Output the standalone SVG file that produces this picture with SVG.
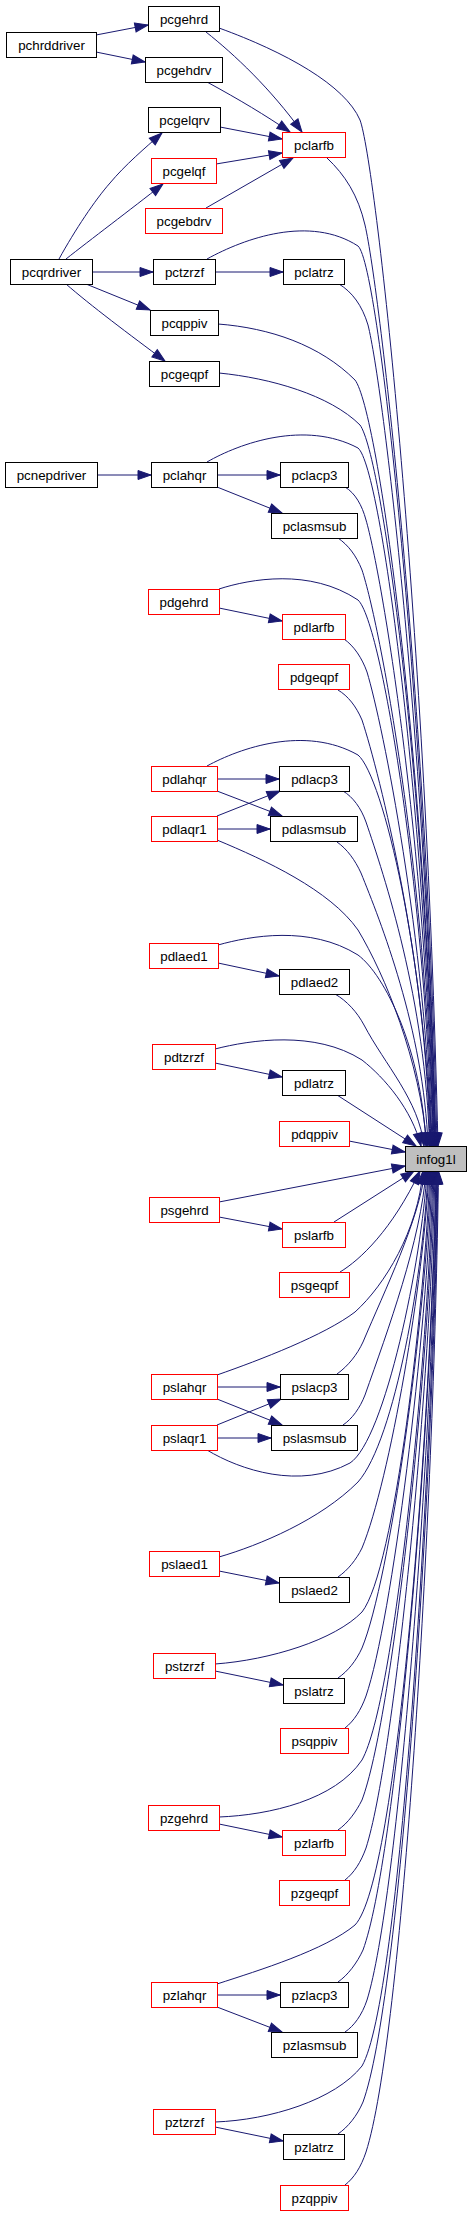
<svg xmlns="http://www.w3.org/2000/svg" width="472" height="2216" viewBox="0 0 472 2216">
<style>
.n rect{fill:#fff;stroke:#000;stroke-width:1}
.n.r rect{stroke:#ff0000}
.n.g rect{fill:#bfbfbf}
text{font-family:"Liberation Sans",Arial,Helvetica,sans-serif;font-size:13.33px;text-anchor:middle;fill:#000}
.e path{fill:none;stroke:#191970;stroke-width:1;marker-end:url(#a)}
</style>
<defs>
<marker id="a" markerWidth="14" markerHeight="10" refX="13" refY="5" orient="auto" markerUnits="userSpaceOnUse" overflow="visible"><path d="M0,0.5 L13,5 L0,9.5 z" fill="#191970" stroke="#191970" stroke-width="1"/></marker>
</defs>
<rect width="472" height="2216" fill="#fff"/>
<g id="edges" class="e">
<path d="M96,35 L148,25"/>
<path d="M96,52 L145,62"/>
<path d="M206,32 C235,55 270,88 302,132"/>
<path d="M219,28 C285,52 345,85 360,120 C375,160 425,600 438,1146"/>
<path d="M207,82 C240,100 265,115 290,132"/>
<path d="M220,127 L282,139"/>
<path d="M216,164 L282,153"/>
<path d="M206,208 L293,158"/>
<path d="M327,158 C345,175 358,195 365,225 C380,290 427,700 437,1146"/>
<path d="M59,259 C75,230 95,200 110,183 C125,165 145,148 162,133"/>
<path d="M66,259 C90,240 130,210 163,184"/>
<path d="M92,272 L153,272"/>
<path d="M86,284 L150,310"/>
<path d="M66,284 C90,305 130,335 165,361"/>
<path d="M215,272 L283,272"/>
<path d="M207,259 C245,238 310,215 358,246 C380,265 426,720 436,1146"/>
<path d="M339,284 C352,292 362,305 368,325 C383,385 426,740 435.5,1146"/>
<path d="M218,324 C270,328 320,345 355,380 C378,410 426,760 435,1146"/>
<path d="M219,373 C270,378 330,395 360,425 C382,455 426,780 434.5,1146"/>
<path d="M97,475 L151,475"/>
<path d="M217,475 L280,475"/>
<path d="M217,487 L282,513"/>
<path d="M207,462 C240,443 305,420 358,448 C382,468 426,820 434,1146"/>
<path d="M345,487 C355,493 362,505 366,520 C382,575 426,840 433.5,1146"/>
<path d="M338,538 C348,545 356,555 362,570 C380,625 426,870 433,1146"/>
<path d="M219,608 L282,621"/>
<path d="M219,589 C250,579 310,568 358,600 C382,622 426,900 432,1146"/>
<path d="M344,639 C354,646 362,658 367,672 C383,725 426,940 431.5,1146"/>
<path d="M338,690 C348,696 356,706 362,720 C380,775 426,960 431,1146"/>
<path d="M217,779 L279,779"/>
<path d="M217,791 L282,816"/>
<path d="M217,816 L280,791"/>
<path d="M217,829 L270,829"/>
<path d="M207,766 C240,748 305,725 358,755 C383,776 426,960 430,1146"/>
<path d="M217,840 C265,860 330,890 358,930 C385,975 420,1060 427,1146"/>
<path d="M343,791 C353,797 361,808 366,822 C384,875 426,1000 429.5,1146"/>
<path d="M337,842 C347,849 355,860 361,873 C380,920 424,1030 428,1146"/>
<path d="M218,963 L279,976"/>
<path d="M218,945 C250,936 310,925 358,955 C385,975 422,1050 426,1146"/>
<path d="M335,994 C347,1001 357,1012 364,1025 C385,1065 419,1100 424,1146"/>
<path d="M215,1063 L282,1077"/>
<path d="M215,1049 C250,1040 315,1030 362,1060 C385,1078 412,1110 421,1146"/>
<path d="M337,1095 L416,1146"/>
<path d="M349,1141 L405,1152"/>
<path d="M219,1202 L405,1166"/>
<path d="M219,1217 L282,1229"/>
<path d="M334,1222 L414,1171"/>
<path d="M340,1272 C360,1260 392,1230 420,1171"/>
<path d="M217,1387 L280,1387"/>
<path d="M217,1399 L282,1425"/>
<path d="M217,1425 L281,1399"/>
<path d="M217,1438 L271,1438"/>
<path d="M217,1375 C260,1360 325,1335 355,1312 C385,1285 418,1230 423,1171"/>
<path d="M337,1374 C348,1366 357,1355 363,1342 C385,1290 419,1220 425,1171"/>
<path d="M343,1425 C352,1419 360,1408 365,1395 C388,1330 421,1240 426,1171"/>
<path d="M207,1450 C240,1470 300,1490 350,1463 C385,1440 422,1260 427,1171"/>
<path d="M219,1571 L279,1583"/>
<path d="M219,1557 C260,1545 320,1520 358,1482 C395,1440 424,1270 428,1171"/>
<path d="M338,1577 C348,1570 356,1560 362,1548 C390,1480 424,1280 429,1171"/>
<path d="M215,1671 L283,1685"/>
<path d="M215,1664 C270,1660 335,1640 362,1612 C395,1570 425,1300 430,1171"/>
<path d="M338,1678 C348,1671 356,1661 362,1648 C390,1580 426,1320 431,1171"/>
<path d="M345,1728 C354,1721 361,1710 366,1696 C392,1620 427,1340 432,1171"/>
<path d="M219,1824 L282,1837"/>
<path d="M219,1817 C270,1815 335,1800 362,1760 C395,1700 428,1360 433,1171"/>
<path d="M338,1830 C348,1823 356,1812 362,1800 C392,1720 429,1380 434,1171"/>
<path d="M345,1880 C354,1873 361,1862 366,1848 C394,1760 430,1400 435,1171"/>
<path d="M217,1995 L280,1995"/>
<path d="M217,2007 L282,2032"/>
<path d="M217,1984 C260,1970 325,1950 355,1925 C398,1880 431,1420 436,1171"/>
<path d="M338,1982 C348,1975 357,1963 363,1950 C396,1860 431,1440 436.5,1171"/>
<path d="M345,2032 C354,2026 362,2015 367,2000 C398,1900 432,1460 437,1171"/>
<path d="M215,2127 L283,2141"/>
<path d="M215,2122 C270,2120 335,2100 362,2066 C400,2000 432,1480 437.5,1171"/>
<path d="M338,2134 C348,2127 357,2116 363,2102 C400,2000 433,1500 438,1171"/>
<path d="M345,2185 C354,2178 361,2167 366,2152 C402,2040 434,1520 438.5,1171"/>
</g>
<g id="pcgehrd" class="n"><rect x="148.5" y="6.5" width="71" height="25"/><text x="184" y="23.5">pcgehrd</text></g>
<g id="pchrddriver" class="n"><rect x="6.5" y="32.5" width="90" height="25"/><text x="51.5" y="49.5">pchrddriver</text></g>
<g id="pcgehdrv" class="n"><rect x="145.5" y="57.5" width="77" height="25"/><text x="184" y="74.5">pcgehdrv</text></g>
<g id="pcgelqrv" class="n"><rect x="148.5" y="107.5" width="72" height="25"/><text x="184.5" y="124.5">pcgelqrv</text></g>
<g id="pclarfb" class="n r"><rect x="282.5" y="132.5" width="63" height="25"/><text x="314" y="149.5">pclarfb</text></g>
<g id="pcgelqf" class="n r"><rect x="151.5" y="158.5" width="65" height="25"/><text x="184" y="175.5">pcgelqf</text></g>
<g id="pcgebdrv" class="n r"><rect x="145.5" y="208.5" width="77" height="25"/><text x="184" y="225.5">pcgebdrv</text></g>
<g id="pcqrdriver" class="n"><rect x="10.5" y="259.5" width="82" height="25"/><text x="51.5" y="276.5">pcqrdriver</text></g>
<g id="pctzrzf" class="n"><rect x="153.5" y="259.5" width="62" height="25"/><text x="184.5" y="276.5">pctzrzf</text></g>
<g id="pclatrz" class="n"><rect x="283.5" y="259.5" width="61" height="25"/><text x="314" y="276.5">pclatrz</text></g>
<g id="pcqppiv" class="n"><rect x="150.5" y="310.5" width="68" height="25"/><text x="184.5" y="327.5">pcqppiv</text></g>
<g id="pcgeqpf" class="n"><rect x="149.5" y="361.5" width="70" height="25"/><text x="184.5" y="378.5">pcgeqpf</text></g>
<g id="pcnepdriver" class="n"><rect x="5.5" y="462.5" width="92" height="25"/><text x="51.5" y="479.5">pcnepdriver</text></g>
<g id="pclahqr" class="n"><rect x="151.5" y="462.5" width="66" height="25"/><text x="184.5" y="479.5">pclahqr</text></g>
<g id="pclacp3" class="n"><rect x="280.5" y="462.5" width="68" height="25"/><text x="314.5" y="479.5">pclacp3</text></g>
<g id="pclasmsub" class="n"><rect x="271.5" y="513.5" width="86" height="25"/><text x="314.5" y="530.5">pclasmsub</text></g>
<g id="pdgehrd" class="n r"><rect x="148.5" y="589.5" width="71" height="25"/><text x="184" y="606.5">pdgehrd</text></g>
<g id="pdlarfb" class="n r"><rect x="282.5" y="614.5" width="63" height="25"/><text x="314" y="631.5">pdlarfb</text></g>
<g id="pdgeqpf" class="n r"><rect x="278.5" y="664.5" width="71" height="25"/><text x="314" y="681.5">pdgeqpf</text></g>
<g id="pdlahqr" class="n r"><rect x="151.5" y="766.5" width="66" height="25"/><text x="184.5" y="783.5">pdlahqr</text></g>
<g id="pdlacp3" class="n"><rect x="279.5" y="766.5" width="70" height="25"/><text x="314.5" y="783.5">pdlacp3</text></g>
<g id="pdlaqr1" class="n r"><rect x="151.5" y="816.5" width="66" height="25"/><text x="184.5" y="833.5">pdlaqr1</text></g>
<g id="pdlasmsub" class="n"><rect x="270.5" y="816.5" width="87" height="25"/><text x="314" y="833.5">pdlasmsub</text></g>
<g id="pdlaed1" class="n r"><rect x="149.5" y="943.5" width="69" height="25"/><text x="184" y="960.5">pdlaed1</text></g>
<g id="pdlaed2" class="n"><rect x="279.5" y="969.5" width="70" height="25"/><text x="314.5" y="986.5">pdlaed2</text></g>
<g id="pdtzrzf" class="n r"><rect x="152.5" y="1044.5" width="63" height="25"/><text x="184" y="1061.5">pdtzrzf</text></g>
<g id="pdlatrz" class="n"><rect x="282.5" y="1070.5" width="63" height="25"/><text x="314" y="1087.5">pdlatrz</text></g>
<g id="pdqppiv" class="n r"><rect x="279.5" y="1121.5" width="70" height="25"/><text x="314.5" y="1138.5">pdqppiv</text></g>
<g id="infog1l" class="n g"><rect x="405.5" y="1146.5" width="61" height="25"/><text x="436" y="1163.5">infog1l</text></g>
<g id="psgehrd" class="n r"><rect x="149.5" y="1197.5" width="70" height="25"/><text x="184.5" y="1214.5">psgehrd</text></g>
<g id="pslarfb" class="n r"><rect x="282.5" y="1222.5" width="63" height="25"/><text x="314" y="1239.5">pslarfb</text></g>
<g id="psgeqpf" class="n r"><rect x="279.5" y="1272.5" width="70" height="25"/><text x="314.5" y="1289.5">psgeqpf</text></g>
<g id="pslahqr" class="n r"><rect x="151.5" y="1374.5" width="66" height="25"/><text x="184.5" y="1391.5">pslahqr</text></g>
<g id="pslacp3" class="n"><rect x="280.5" y="1374.5" width="68" height="25"/><text x="314.5" y="1391.5">pslacp3</text></g>
<g id="pslaqr1" class="n r"><rect x="151.5" y="1425.5" width="66" height="25"/><text x="184.5" y="1442.5">pslaqr1</text></g>
<g id="pslasmsub" class="n"><rect x="271.5" y="1425.5" width="86" height="25"/><text x="314.5" y="1442.5">pslasmsub</text></g>
<g id="pslaed1" class="n r"><rect x="149.5" y="1551.5" width="70" height="25"/><text x="184.5" y="1568.5">pslaed1</text></g>
<g id="pslaed2" class="n"><rect x="279.5" y="1577.5" width="70" height="25"/><text x="314.5" y="1594.5">pslaed2</text></g>
<g id="pstzrzf" class="n r"><rect x="153.5" y="1653.5" width="62" height="25"/><text x="184.5" y="1670.5">pstzrzf</text></g>
<g id="pslatrz" class="n"><rect x="283.5" y="1678.5" width="61" height="25"/><text x="314" y="1695.5">pslatrz</text></g>
<g id="psqppiv" class="n r"><rect x="280.5" y="1728.5" width="68" height="25"/><text x="314.5" y="1745.5">psqppiv</text></g>
<g id="pzgehrd" class="n r"><rect x="148.5" y="1805.5" width="71" height="25"/><text x="184" y="1822.5">pzgehrd</text></g>
<g id="pzlarfb" class="n r"><rect x="282.5" y="1830.5" width="63" height="25"/><text x="314" y="1847.5">pzlarfb</text></g>
<g id="pzgeqpf" class="n r"><rect x="279.5" y="1880.5" width="70" height="25"/><text x="314.5" y="1897.5">pzgeqpf</text></g>
<g id="pzlahqr" class="n r"><rect x="151.5" y="1982.5" width="66" height="25"/><text x="184.5" y="1999.5">pzlahqr</text></g>
<g id="pzlacp3" class="n"><rect x="280.5" y="1982.5" width="68" height="25"/><text x="314.5" y="1999.5">pzlacp3</text></g>
<g id="pzlasmsub" class="n"><rect x="271.5" y="2032.5" width="86" height="25"/><text x="314.5" y="2049.5">pzlasmsub</text></g>
<g id="pztzrzf" class="n r"><rect x="153.5" y="2109.5" width="62" height="25"/><text x="184.5" y="2126.5">pztzrzf</text></g>
<g id="pzlatrz" class="n"><rect x="283.5" y="2134.5" width="61" height="25"/><text x="314" y="2151.5">pzlatrz</text></g>
<g id="pzqppiv" class="n r"><rect x="280.5" y="2185.5" width="68" height="25"/><text x="314.5" y="2202.5">pzqppiv</text></g>
</svg>
